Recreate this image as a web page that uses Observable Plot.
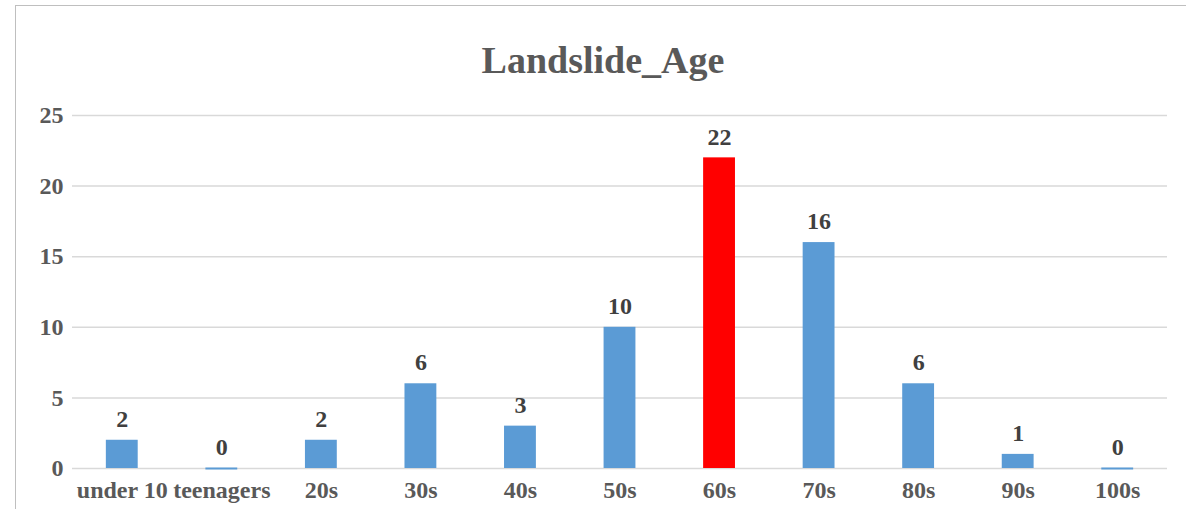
<!DOCTYPE html>
<html>
<head>
<meta charset="utf-8">
<script src="https://cdn.jsdelivr.net/npm/d3@7"></script>
<script src="https://cdn.jsdelivr.net/npm/@observablehq/plot@0.6"></script>
<style>
  html, body { margin: 0; padding: 0; background: #fff; }
  #wrap { position: relative; width: 1186px; height: 509px; overflow: hidden; }
  #frame { position: absolute; left: 15px; top: 5px; width: 1200px; height: 600px;
           border-left: 1.5px solid #bfbfbf; border-top: 1.5px solid #bfbfbf; }
  #title { position: absolute; left: 0; top: 38px; width: 1206px; text-align: center;
           font-family: "Liberation Serif", "Times New Roman", serif; font-weight: bold;
           font-size: 38px; line-height: normal; color: #595959; }
  #chart { position: absolute; left: 0; top: 0; }
</style>
</head>
<body>
<div id="wrap">
  <div id="frame"></div>
  <div id="title">Landslide_Age</div>
  <div id="chart"></div>
</div>
<script>
const titleText = "Landslide_Age";
const categories = ["under 10", "teenagers", "20s", "30s", "40s", "50s", "60s", "70s", "80s", "90s", "100s"];
const values = [2, 0, 2, 6, 3, 10, 22, 16, 6, 1, 0];
const highlight = "60s";
const yTicks = [0, 5, 10, 15, 20, 25];

document.getElementById("title").textContent = titleText;
const data = categories.map((c, i) => ({cat: c, v: values[i]}));
const blue = "#5B9BD5", red = "#FF0000";
const colorOf = d => d.cat === highlight ? red : blue;

const chart = Plot.plot({
  width: 1186,
  height: 509,
  marginTop: 115,
  marginLeft: 72,
  marginRight: 19,
  marginBottom: 41,
  style: {fontFamily: "'Liberation Serif', 'Times New Roman', serif", background: "transparent"},
  x: {domain: categories, paddingInner: 0.68, paddingOuter: 0.34, round: false, label: null},
  y: {domain: [0, 25], ticks: yTicks, label: null},
  marks: [
    Plot.gridY(yTicks, {stroke: "#d9d9d9", strokeOpacity: 1, strokeWidth: 1.5}),
    Plot.barY(data, {x: "cat", y: "v", fill: colorOf}),
    Plot.tickY(data.filter(d => d.v === 0), {x: "cat", y: "v", stroke: colorOf, strokeWidth: 2}),
    Plot.text(data, {x: "cat", y: "v", text: d => String(d.v), dy: -21, fill: "#404040",
      fontSize: 24, fontWeight: "bold"}),
    Plot.axisY({ticks: yTicks, tickSize: 0, tickPadding: 9, fontSize: 24, fontWeight: "bold", color: "#595959", label: null}),
    Plot.axisX({tickSize: 0, tickPadding: 12, fontSize: 24, fontWeight: "bold", color: "#595959", label: null})
  ]
});
document.getElementById("chart").appendChild(chart);
</script>
</body>
</html>
